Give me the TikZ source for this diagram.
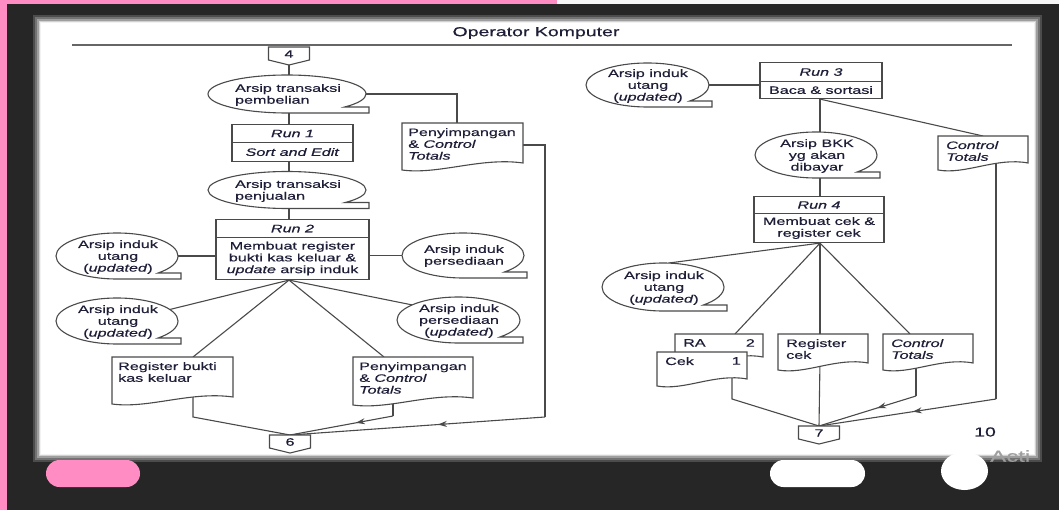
\documentclass[tikz,border=0pt]{standalone}
\usepackage{fontspec}
\setmainfont{Liberation Sans}[FakeStretch=1.5, FakeBold=0.5]
\usetikzlibrary{calc,decorations.markings,arrows.meta}
\definecolor{bgdark}{HTML}{262626}
\definecolor{pinkc}{HTML}{FF8CC2}
\definecolor{lnc}{HTML}{4a4a4a}
\definecolor{txt}{HTML}{1e1e38}
\pgfdeclarelayer{back}
\pgfdeclarelayer{conn}
\pgfsetlayers{back,conn,main}
\tikzset{
  ln/.style={draw=lnc, line width=1.1pt},
  tx/.style={text=txt, font=\fontsize{10.75}{11.8}\selectfont, inner sep=0pt},
  rb/.style={ln, fill=white, text=txt, font=\fontsize{10.75}{11.8}\selectfont, inner sep=0pt, align=center},
  midarrow/.style={postaction={decorate}, decoration={markings, mark=at position #1 with {\arrow{Stealth[length=9pt,width=6pt]}}}},
}
% tape-like storage shape: name, cx, cy, rx, ry
\newcommand\tapeS[5]{%
  \draw[ln, fill=white] (#2,{#3+#5}) arc[start angle=90, end angle={360+asin((#5-6)/#5)}, x radius=#4, y radius=#5]
     -- ({#2+#4+3},{#3+#5-6}) -- ({#2+#4+3},{#3+#5}) -- cycle;
  \coordinate (#1-c) at (#2,#3);
  \coordinate (#1-n) at (#2,{#3-#5});
  \coordinate (#1-s) at (#2,{#3+#5});
}
% document shape: x0, x1, top, bottom-left
\newcommand\docS[4]{%
  \draw[ln, fill=white] (#1,#3) -- (#2,#3) -- (#2,{#4-7})
     .. controls ({#1+0.65*(#2-#1)},{#4-13}) and ({#1+0.3*(#2-#1)},{#4+5}) .. (#1,#4) -- cycle;
}
% off-page connector: name, cx, top, label
\newcommand\offp[4]{%
  \draw[ln, fill=white] ({#2-20.5},#3) -- ({#2+20.5},#3) -- ({#2+20.5},{#3+13}) -- (#2,{#3+18}) -- ({#2-20.5},{#3+13}) -- cycle;
  \node[tx] (#1) at (#2,{#3+7}) {#4};
  \coordinate (#1-in) at (#2,#3);
  \coordinate (#1-out) at (#2,{#3+18});
}
% two-part run box: name, cx, top, mid, bottom, width, top text, bottom text
\newcommand\runS[8]{%
  \node[rb, minimum width=#6, minimum height={#4-#3}, anchor=north] (#1t) at (#2,#3) {#7};
  \node[rb, minimum width=#6, minimum height={#5-#4}, anchor=north] (#1b) at (#2,#4) {#8};
}
\begin{document}
\begin{tikzpicture}[x=1pt,y=1pt,yscale=-1]
\useasboundingbox (0,0) rectangle (1059,510);
\begin{pgfonlayer}{back}
  \fill[bgdark] (0,0) rectangle (1059,510);
  \fill[pinkc] (0,0) rectangle (7,510);
  \fill[pinkc] (0,0) rectangle (557,4);
  \fill[white!94!gray] (557,0) rectangle (1059,4);
  \fill[black!70] (33,15) rectangle (1042,462);
  \fill[black!55] (35,17) rectangle (1040,460);
  \fill[black!38] (37,19) rectangle (1038,458);
  \fill[black!18] (39,21) rectangle (1036,456);
  \fill[black!5] (40,22) rectangle (1035,455);
  \fill[white] (41,23) rectangle (1034,454);
  \fill[pinkc, rounded corners=13.5pt] (46,460) rectangle (140,487);
  \fill[white, rounded corners=13.5pt] (770,460) rectangle (865,487);
  \fill[white] (964.5,471) ellipse [x radius=23.5, y radius=19];
  \begin{scope}
    \clip (980,440) rectangle (1037,470);
    \node[text=gray!75, font=\fontsize{16}{18}\selectfont, anchor=west, inner sep=0pt] (acti) at (990,456) {Acti};
  \end{scope}
\end{pgfonlayer}

% title
\node[tx, font=\fontsize{13}{15}\selectfont] (title) at (536,33) {Operator Komputer};
\draw[draw=black!60, line width=2pt] (72,45) -- (1012,45);

% ---------- left column ----------
\offp{c4}{289}{47}{4}
\tapeS{e1}{287}{94}{79}{19}
\node[tx, align=left] (e1t) at (288,95) {Arsip transaksi\\pembelian};
\runS{r1}{292.5}{124}{142}{161}{121}{\textit{Run 1}}{\textit{Sort and Edit}}
\tapeS{e2}{287}{190}{79}{18.5}
\node[tx, align=left] (e2t) at (288,191) {Arsip transaksi\\penjualan};
\runS{r2}{292.5}{219}{237}{279}{153}{\textit{Run 2}}{Membuat register\\bukti kas keluar \&\\\textit{update} arsip induk}

\tapeS{eL1}{117}{256}{61}{23}
\node[tx, align=center] (eL1t) at (118,257) {Arsip induk\\utang\\(\textit{updated})};
\tapeS{eL2}{117}{321}{61}{23}
\node[tx, align=center] (eL2t) at (118,322) {Arsip induk\\utang\\(\textit{updated})};
\tapeS{eR1}{463}{255.5}{61}{22.5}
\node[tx, align=center] (eR1t) at (464,256) {Arsip induk\\persediaan};
\tapeS{eR2}{458.5}{320}{61.5}{23}
\node[tx, align=center] (eR2t) at (459,321) {Arsip induk\\persediaan\\(\textit{updated})};

\docS{402}{523}{123}{170}
\node[tx, align=left, anchor=north west] (P1) at (408,128) {Penyimpangan\\\& \textit{Control}\\\textit{Totals}};
\docS{112}{233}{357}{404}
\node[tx, align=left, anchor=north west] (RB) at (118,362) {Register bukti\\kas keluar};
\docS{353}{473}{357}{405}
\node[tx, align=left, anchor=north west] (P2) at (359,362) {Penyimpangan\\\& \textit{Control}\\\textit{Totals}};
\offp{c6}{290}{435}{6}

% ---------- right column ----------
\runS{r3}{821}{62}{81}{98}{122}{\textit{Run 3}}{Baca \& sortasi}
\tapeS{eT}{647.5}{85}{61.5}{22}
\node[tx, align=center] (eTt) at (648,86) {Arsip induk\\utang\\(\textit{updated})};
\tapeS{BKK}{816}{155}{61}{23}
\node[tx, align=center] (BKKt) at (817,156) {Arsip BKK\\yg akan\\dibayar};
\docS{938}{1028}{136}{170}
\node[tx, align=left, anchor=north west] (CT1) at (946,141) {\textit{Control}\\\textit{Totals}};
\runS{r4}{819}{196}{213}{242}{130}{\textit{Run 4}}{Membuat cek \&\\register cek}
\tapeS{eB}{663}{287}{61}{24}
\node[tx, align=center] (eBt) at (664,288) {Arsip induk\\utang\\(\textit{updated})};

\docS{675}{763}{334}{364}
\node[tx, anchor=north west] (RA) at (683,339) {RA};
\node[tx, anchor=north east] (RA2) at (755,339) {2};
\docS{657}{747}{352}{386}
\node[tx, anchor=north west] (Cek) at (665,357) {Cek};
\node[tx, anchor=north east] (Cek1) at (741,357) {1};
\docS{778}{868}{334}{370}
\node[tx, align=left, anchor=north west] (RC) at (786,339) {Register\\cek};
\docS{883}{973}{334}{370}
\node[tx, align=left, anchor=north west] (CT2) at (891,339) {\textit{Control}\\\textit{Totals}};
\offp{c7}{819}{426}{7}
\node[tx, font=\fontsize{13}{15}\selectfont] (pg) at (985,432) {10};

% ---------- connectors ----------
\coordinate (colL) at (289,0);
\coordinate (colR) at (820,0);
\coordinate (P1-in) at (457,130);
\coordinate (P1-r) at (510,145);
\coordinate (jL) at (545,417);
\coordinate (RB-in) at (193,357);
\coordinate (RB-out) at (193,395);
\coordinate (RB-j) at (193,417);
\coordinate (P2-in) at (384,357);
\coordinate (P2-out) at (393,398);
\coordinate (P2-j) at (393,416);
\coordinate (CT1-in) at (983,136);
\coordinate (CT1-out) at (996,160);
\coordinate (CT1-j) at (996,399);
\coordinate (RA-in) at (735,334);
\coordinate (RC-in) at (820,334);
\coordinate (RC-out) at (820,360);
\coordinate (CT2-in) at (910,334);
\coordinate (CT2-out) at (916,360);
\coordinate (CT2-j) at (916,396);
\coordinate (Cek-out) at (732,375);
\coordinate (Cek-j) at (732,399);

\begin{pgfonlayer}{conn}
  % left
  \draw[ln] (c4-out) -- (e1-n -| colL);
  \draw[ln] (e1-s -| colL) -- (r1t.north -| colL);
  \draw[ln] (r1b.south -| colL) -- (e2-n -| colL);
  \draw[ln] (e2-s -| colL) -- (r2t.north -| colL);
  \draw[ln] (e1-c) -| (P1-in);
  \draw[ln] (P1-r) -| (jL);
  \draw[ln, midarrow=0.42] (jL) -- (c6-in);
  \draw[ln] (eL1-c) -- (eL1-c -| r2b.west);
  \draw[ln] (r2b.east |- eR1-c) -- (eR1-c);
  \coordinate (fanL) at (r2b.south -| colL);
  \draw[ln] (fanL) -- ($(eL2-c)+(-30:61 and 23)$);
  \draw[ln] (fanL) -- ($(eR2-c)+(221:61.5 and 23)$);
  \draw[ln] (fanL) -- (RB-in);
  \draw[ln] (fanL) -- (P2-in);
  \draw[ln] (RB-out) -- (RB-j) -- (c6-in);
  \draw[ln] (P2-out) -- (P2-j);
  \draw[ln, midarrow=0.36] (P2-j) -- (c6-in);
  % right
  \draw[ln] (eT-c) -- (eT-c -| r3b.west);
  \coordinate (fanR3) at (r3b.south -| colR);
  \draw[ln] (fanR3) -- (BKK-n -| colR);
  \draw[ln] (fanR3) -- (CT1-in);
  \draw[ln] (BKK-s -| colR) -- (r4t.north -| colR);
  \draw[ln] (CT1-out) -- (CT1-j);
  \draw[ln, midarrow=0.47] (CT1-j) -- (c7-in);
  \coordinate (fanR4) at (r4b.south -| colR);
  \draw[ln] (fanR4) -- ($(eB-c)+(275:61 and 24)$);
  \draw[ln] (fanR4) -- (RA-in);
  \draw[ln] (fanR4) -- (RC-in);
  \draw[ln] (fanR4) -- (CT2-in);
  \draw[ln] (Cek-out) -- (Cek-j) -- (c7-in);
  \draw[ln] (RC-out) -- (c7-in);
  \draw[ln] (CT2-out) -- (CT2-j);
  \draw[ln, midarrow=0.40] (CT2-j) -- (c7-in);
\end{pgfonlayer}
\end{tikzpicture}
\end{document}
